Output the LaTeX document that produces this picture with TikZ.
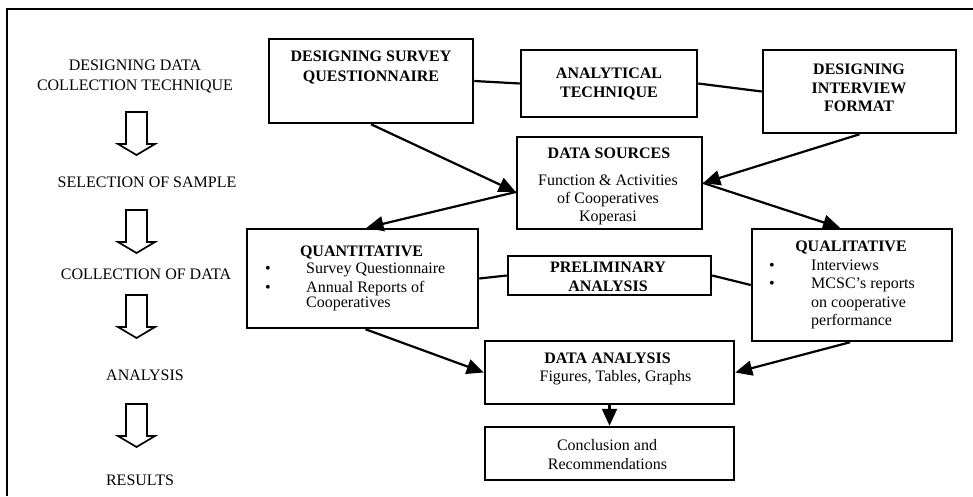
\documentclass[tikz,border=0pt]{standalone}
\usepackage{fontspec}
\setmainfont{Liberation Serif}
\usetikzlibrary{arrows.meta}
\begin{document}
\begin{tikzpicture}[x=1pt,y=-1pt,
  every node/.style={font=\fontsize{16}{18}\selectfont, inner sep=0pt},
  box/.style={draw, line width=2.5pt, inner sep=0pt},
  txt/.style={anchor=base},
  btxt/.style={anchor=base, font=\fontsize{16}{18}\selectfont\bfseries},
  ltxt/.style={anchor=base west},
  conn/.style={line width=2.2pt},
  arr/.style={conn, -{Triangle[length=17pt,width=15pt]}},
  hollow/.style={line width=1.7pt, line join=miter},
]
\useasboundingbox (0,0) rectangle (973,496);
\draw[line width=2.5pt] (7,496) -- (7,9) -- (973,9);

% ---------- left column ----------
\node[txt] (l1a) at (135,70.5) {DESIGNING DATA};
\node[txt] (l1b) at (135,90.5) {COLLECTION TECHNIQUE};
\node[txt] (l2) at (147,187.5) {SELECTION OF SAMPLE};
\node[txt] (l3) at (146,279.5) {COLLECTION OF DATA};
\node[txt] (l4) at (145,380.5) {ANALYSIS};
\node[txt] (l5) at (140,485.5) {RESULTS};

\coordinate (h1) at (136.5,112);
\coordinate (h2) at (136.5,210);
\coordinate (h3) at (136.5,295);
\coordinate (h4) at (136.5,404);
\foreach \c in {h1,h2,h3,h4}{
  \draw[hollow] (\c) ++(-10.5,0) -- ++(0,32) -- ++(-8,0) -- ++(18.5,11)
     -- ++(18.5,-11) -- ++(-8,0) -- ++(0,-32) -- cycle;
}

% ---------- boxes ----------
\node[box, minimum width=204, minimum height=84] (sq) at (371,81) {};
\node[box, minimum width=176, minimum height=67] (at) at (609,83.5) {};
\node[box, minimum width=193, minimum height=83] (iv) at (859.5,91.5) {};
\node[box, minimum width=185, minimum height=92] (ds) at (609.5,183) {};
\node[box, minimum width=231, minimum height=99] (qn) at (362.5,278.5) {};
\node[box, minimum width=203, minimum height=39] (pa) at (609.5,275.5) {};
\node[box, minimum width=200, minimum height=112] (ql) at (852,285) {};
\node[box, minimum width=249, minimum height=63] (da) at (609.5,372.5) {};
\node[box, minimum width=249, minimum height=53] (cc) at (609.5,453.5) {};

% ---------- box texts ----------
\node[btxt] (sq1) at (371,61.5) {DESIGNING SURVEY};
\node[btxt] (sq2) at (371,81.5) {QUESTIONNAIRE};

\node[btxt] (at1) at (609,78.5) {ANALYTICAL};
\node[btxt] (at2) at (609,97.5) {TECHNIQUE};

\node[btxt] (iv1) at (859,74.5) {DESIGNING};
\node[btxt] (iv2) at (859,93) {INTERVIEW};
\node[btxt] (iv3) at (859,111.5) {FORMAT};

\node[btxt] (ds1) at (609,158.5) {DATA SOURCES};
\node[txt] (ds2) at (608,185.5) {Function \& Activities};
\node[txt] (ds3) at (608,203) {of Cooperatives};
\node[txt] (ds4) at (608,221) {Koperasi};

\node[btxt] (qn1) at (361.5,256.5) {QUANTITATIVE};
\node[txt] (qnb1) at (268,273.5) {•};
\node[ltxt] (qn2) at (306,273.5) {Survey Questionnaire};
\node[txt] (qnb2) at (268,292.5) {•};
\node[ltxt] (qn3) at (306,292.5) {Annual Reports of};
\node[ltxt] (qn4) at (306,307) {Cooperatives};

\node[btxt] (pa1) at (608,272.5) {PRELIMINARY};
\node[btxt] (pa2) at (608,291.5) {ANALYSIS};

\node[btxt] (ql1) at (851,251.5) {QUALITATIVE};
\node[txt] (qlb1) at (772,270) {•};
\node[ltxt] (ql2) at (811,270) {Interviews};
\node[txt] (qlb2) at (772,288) {•};
\node[ltxt] (ql3) at (811,288) {MCSC’s reports};
\node[ltxt] (ql4) at (811,307) {on cooperative};
\node[ltxt] (ql5) at (811,325) {performance};

\node[btxt] (da1) at (607.5,363.5) {DATA ANALYSIS};
\node[txt] (da2) at (615.5,381) {Figures, Tables, Graphs};

\node[txt] (cc1) at (607,450) {Conclusion and};
\node[txt] (cc2) at (607.5,469) {Recommendations};

% ---------- connectors ----------
\draw[conn] (sq.east) -- (at.west);
\draw[conn] (at.east) -- (iv.west);
\draw[conn] (qn.east) -- (pa.west);
\draw[conn] (pa.east) -- (ql.west);

\draw[arr] (sq.south) -- ([yshift=-9pt]ds.west);
\draw[arr] (iv.south) -- (ds.east);
\draw[arr] ([yshift=-9pt]ds.west) -- ([xshift=4pt]qn.north);
\draw[arr] (ds.east) -- ([xshift=-12pt]ql.north);
\draw[arr] ([xshift=3pt]qn.south) -- (da.west);
\draw[arr] ([xshift=-2pt]ql.south) -- (da.east);
\draw[arr] (da.south) -- (cc.north);
\end{tikzpicture}
\end{document}
